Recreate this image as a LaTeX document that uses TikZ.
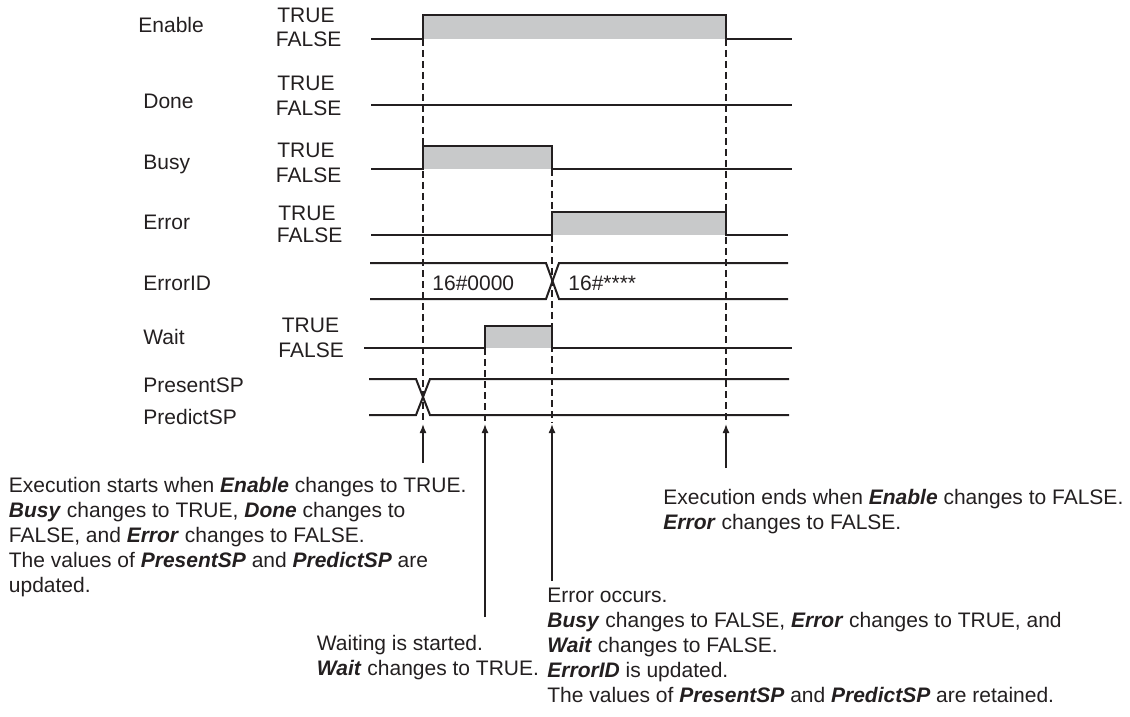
\documentclass[tikz,border=0pt]{standalone}
\usepackage{fontspec}
\setmainfont{Liberation Sans}
\usetikzlibrary{arrows.meta}
\definecolor{ink}{RGB}{35,31,32}
\definecolor{hifill}{RGB}{200,201,202}
\newcommand\kw[1]{\textbf{\textit{#1}}}
\tikzset{
  sig/.style={draw=ink, line width=1pt, line join=miter},
  guide/.style={draw=ink, line width=0.75pt, dash pattern=on 3.3pt off 2.2pt},
  evt/.style={draw=ink, line width=0.75pt, -{Latex[length=4.5pt,width=3.5pt]}},
  lbl/.style={font=\fontsize{10.5}{12.5}\selectfont, text=ink, inner sep=0pt, anchor=base west},
  note/.style={lbl, align=left, anchor=north west},
}
\begin{document}
\begin{tikzpicture}[x=0.5pt,y=-0.5pt]
\useasboundingbox (0,0) rectangle (1130,717);
% high-level fills
\fill[hifill] (423,15) rectangle (726,39);
\fill[hifill] (423,146) rectangle (552,169);
\fill[hifill] (552,212) rectangle (726,235);
\fill[hifill] (485,326) rectangle (552,348);
% guide lines
\draw[guide] (423,39) -- (423,423);
\draw[guide] (485,348) -- (485,423);
\draw[guide] (552,169) -- (552,423);
\draw[guide] (726,39) -- (726,423);
% signals
\draw[sig] (371,39) -- (423,39) -- (423,15) -- (726,15) -- (726,39) -- (792,39);
\draw[sig] (371,105) -- (792,105);
\draw[sig] (371,169) -- (423,169) -- (423,146) -- (552,146) -- (552,169) -- (792,169);
\draw[sig] (371,235) -- (552,235) -- (552,212) -- (726,212) -- (726,235) -- (788,235);
\draw[sig] (370,263) -- (546,263) -- (559,299) -- (788,299);
\draw[sig] (370,299) -- (546,299) -- (559,263) -- (788,263);
\draw[sig] (364,348) -- (485,348) -- (485,326) -- (552,326) -- (552,348) -- (792,348);
\draw[sig] (369,379) -- (416,379) -- (430,415) -- (789,415);
\draw[sig] (369,415) -- (416,415) -- (430,379) -- (789,379);
% signal labels
\node[lbl] (lEnable) at (138,32.5) {Enable};
\node[lbl] (tEnable) at (277,22.5) {TRUE};
\node[lbl] (fEnable) at (275.5,47) {FALSE};
\node[lbl] (lDone) at (143,109) {Done};
\node[lbl] (tDone) at (277,91) {TRUE};
\node[lbl] (fDone) at (275.5,116) {FALSE};
\node[lbl] (lBusy) at (143,169.5) {Busy};
\node[lbl] (tBusy) at (277,157.5) {TRUE};
\node[lbl] (fBusy) at (275.5,182.5) {FALSE};
\node[lbl] (lError) at (143,229.5) {Error};
\node[lbl] (tError) at (278,220.5) {TRUE};
\node[lbl] (fError) at (276.5,242.5) {FALSE};
\node[lbl] (lErrorID) at (143,290) {ErrorID};
\node[lbl] (v0) at (432,290.5) {16\#0000};
\node[lbl] (v1) at (568,290.5) {16\#****};
\node[lbl] (lWait) at (143,344) {Wait};
\node[lbl] (tWait) at (281.5,332.5) {TRUE};
\node[lbl] (fWait) at (278,357.5) {FALSE};
\node[lbl] (lPresent) at (143,392.5) {PresentSP};
\node[lbl] (lPredict) at (143,424) {PredictSP};
% event arrows
\coordinate (a1) at (423,424); \coordinate (b1) at (423,463);
\coordinate (a2) at (485,424); \coordinate (b2) at (485,617);
\coordinate (a3) at (552,424); \coordinate (b3) at (552,581);
\coordinate (a4) at (726,424); \coordinate (b4) at (726,468);
\draw[evt] (b1) -- (a1);
\draw[evt] (b2) -- (a2);
\draw[evt] (b3) -- (a3);
\draw[evt] (b4) -- (a4);
% notes
\node[note] (n1) at (8.5,477) {Execution starts when \kw{Enable} changes to TRUE.\\
\kw{Busy} changes to TRUE, \kw{Done} changes to\\
FALSE, and \kw{Error} changes to FALSE.\\
The values of \kw{PresentSP} and \kw{PredictSP} are\\
updated.};
\node[note] (n2) at (316.5,635) {Waiting is started.\\
\kw{Wait} changes to TRUE.};
\node[note] (n3) at (547,588) {Error occurs.\\
\kw{Busy} changes to FALSE, \kw{Error} changes to TRUE, and\\
\kw{Wait} changes to FALSE.\\
\kw{ErrorID} is updated.\\
The values of \kw{PresentSP} and \kw{PredictSP} are retained.};
\node[note] (n4) at (663,489) {Execution ends when \kw{Enable} changes to FALSE.\\
\kw{Error} changes to FALSE.};
\end{tikzpicture}
\end{document}
